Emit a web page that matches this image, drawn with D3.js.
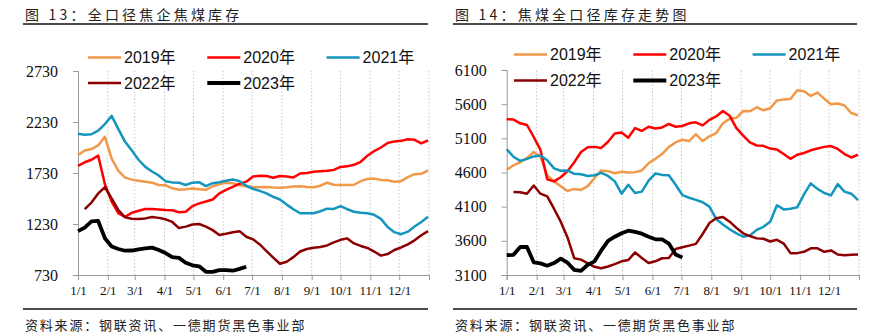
<!DOCTYPE html>
<html>
<head>
<meta charset="utf-8">
<script src="https://cdn.jsdelivr.net/npm/d3@7"></script>
<style>
  body { margin: 0; background: #fff; }
  svg { display: block; }
  .title { font-family: "Noto Sans CJK SC", sans-serif; font-size: 14px; letter-spacing: 3.2px; fill: #222; }
  .source { font-family: "Noto Sans CJK SC", sans-serif; font-size: 13px; letter-spacing: 1.8px; fill: #222; }
  .tick-y { font-family: "Liberation Serif", "Times New Roman", serif; font-size: 16px; fill: #111; }
  .tick-x { font-family: "Liberation Serif", "Times New Roman", serif; font-size: 13px; fill: #111; }
  .legend { font-family: "Liberation Sans", Arial, "Noto Sans CJK SC", sans-serif; font-size: 16px; fill: #111; }
</style>
</head>
<body>
<svg id="chart" width="878" height="333"></svg>
<script>
// weekly points, one every 7 days from 1/1
const monthLabels = ["1/1", "2/1", "3/1", "4/1", "5/1", "6/1", "7/1", "8/1", "9/1", "10/1", "11/1", "12/1"];
const monthDays = [0, 31, 59, 90, 120, 151, 181, 212, 243, 273, 304, 334];
const years = ["2019年", "2020年", "2021年", "2022年", "2023年"];
const colors = ["#F0994A", "#FF0000", "#1495BE", "#8B0000", "#000000"];

// 全口径焦企焦煤库存
const cokeTicks = [730, 1230, 1730, 2230, 2730];
const coke2019 = [1905, 1950, 1965, 2000, 2085, 1870, 1750, 1685, 1665, 1655, 1645, 1635, 1612, 1610, 1580, 1565, 1570, 1578, 1570, 1565, 1600, 1620, 1635, 1630, 1610, 1600, 1592, 1590, 1592, 1588, 1586, 1590, 1598, 1600, 1592, 1590, 1605, 1635, 1615, 1612, 1612, 1615, 1650, 1672, 1675, 1662, 1658, 1645, 1650, 1690, 1718, 1722, 1755];
const coke2020 = [1800, 1835, 1860, 1900, 1620, 1450, 1335, 1300, 1340, 1360, 1377, 1378, 1372, 1367, 1365, 1345, 1350, 1405, 1432, 1450, 1470, 1530, 1565, 1595, 1625, 1645, 1695, 1703, 1700, 1684, 1700, 1695, 1687, 1725, 1730, 1742, 1748, 1752, 1760, 1790, 1795, 1810, 1840, 1900, 1945, 1980, 2025, 2040, 2045, 2060, 2055, 2020, 2050];
const coke2021 = [2115, 2105, 2110, 2145, 2210, 2290, 2160, 2036, 1950, 1860, 1790, 1745, 1705, 1650, 1638, 1635, 1612, 1635, 1640, 1602, 1630, 1640, 1655, 1667, 1650, 1605, 1575, 1555, 1530, 1497, 1470, 1420, 1375, 1335, 1335, 1335, 1355, 1380, 1378, 1406, 1375, 1350, 1340, 1335, 1320, 1280, 1200, 1150, 1130, 1155, 1205, 1250, 1300];
const coke2022 = [null, 1375, 1440, 1530, 1590, 1481, 1367, 1295, 1282, 1279, 1285, 1298, 1290, 1276, 1250, 1190, 1204, 1225, 1230, 1205, 1170, 1122, 1135, 1150, 1160, 1105, 1080, 1030, 965, 900, 840, 860, 905, 960, 985, 998, 1005, 1020, 1050, 1075, 1089, 1040, 1015, 995, 960, 920, 935, 975, 1000, 1030, 1070, 1120, 1160];
const coke2023 = [1160, 1195, 1255, 1260, 1090, 1010, 985, 968, 970, 982, 991, 998, 975, 945, 905, 898, 850, 825, 815, 762, 760, 778, 778, 772, 790, 811];

// 焦煤全口径库存
const coalTicks = [3100, 3600, 4100, 4600, 5100, 5600, 6100];
const coal2019 = [4640, 4705, 4750, 4810, 4900, 4830, 4560, 4470, 4400, 4330, 4360, 4345, 4400, 4520, 4630, 4620, 4590, 4610, 4600, 4605, 4630, 4735, 4800, 4870, 4975, 5040, 5080, 5060, 5160, 5060, 5130, 5175, 5320, 5385, 5400, 5500, 5495, 5555, 5510, 5540, 5655, 5670, 5675, 5805, 5790, 5720, 5770, 5680, 5600, 5610, 5580, 5470, 5435];
const coal2020 = [5380, 5375, 5320, 5295, 5120, 4930, 4500, 4470, 4530, 4620, 4750, 4900, 4970, 4975, 4960, 5050, 5170, 5185, 5110, 5250, 5210, 5270, 5245, 5260, 5310, 5270, 5280, 5320, 5335, 5290, 5370, 5420, 5500, 5430, 5250, 5140, 5040, 4995, 4990, 4950, 4935, 4870, 4800, 4860, 4885, 4925, 4950, 4975, 4987, 4945, 4870, 4820, 4860];
const coal2021 = [4940, 4830, 4770, 4800, 4835, 4850, 4780, 4660, 4625, 4630, 4580, 4575, 4550, 4560, 4595, 4550, 4470, 4290, 4420, 4300, 4320, 4480, 4585, 4565, 4560, 4420, 4270, 4230, 4200, 4165, 4100, 3920, 3840, 3770, 3710, 3660, 3680, 3760, 3805, 3880, 4120, 4060, 4070, 4090, 4280, 4440, 4360, 4300, 4265, 4430, 4320, 4290, 4195];
const coal2022 = [null, 4315, 4310, 4290, 4410, 4290, 4250, 4070, 3880, 3650, 3344, 3325, 3270, 3220, 3198, 3225, 3260, 3300, 3320, 3430, 3350, 3275, 3300, 3345, 3350, 3480, 3505, 3530, 3555, 3700, 3860, 3930, 3950, 3880, 3790, 3710, 3670, 3636, 3630, 3590, 3615, 3560, 3420, 3420, 3440, 3490, 3490, 3440, 3460, 3400, 3390, 3395, 3400];
const coal2023 = [3390, 3395, 3510, 3510, 3285, 3270, 3236, 3275, 3340, 3280, 3175, 3160, 3250, 3300, 3460, 3600, 3660, 3710, 3748, 3730, 3705, 3660, 3622, 3620, 3560, 3400, 3355];

const svg = d3.select("#chart");
svg.append("rect").attr("width", 878).attr("height", 333).attr("fill", "#fff");

function drawPanel(p) {
  const g = svg.append("g");

  // header + footer
  g.append("text").attr("class", "title").attr("x", p.frame[0] + 2).attr("y", 20).text(p.title);
  g.append("line").attr("x1", p.frame[0]).attr("x2", p.frame[1]).attr("y1", 24).attr("y2", 24)
    .attr("stroke", "#111").attr("stroke-width", 1.5);
  g.append("line").attr("x1", p.frame[0]).attr("x2", p.frame[1]).attr("y1", 309).attr("y2", 309)
    .attr("stroke", "#111").attr("stroke-width", 1.5);
  g.append("text").attr("class", "source").attr("x", p.frame[0] + 2).attr("y", 330)
    .text("资料来源：钢联资讯、一德期货黑色事业部");

  const x = d3.scaleLinear().domain([0, 365]).range(p.xRange);
  const y = d3.scaleLinear().domain(d3.extent(p.ticks)).range(p.yRange);

  // dotted month grid
  g.selectAll(".grid").data(monthDays.slice(1).concat([365])).enter().append("line")
    .attr("x1", d => x(d)).attr("x2", d => x(d))
    .attr("y1", p.yRange[0]).attr("y2", p.yRange[1])
    .attr("stroke", "#c8c8c8").attr("stroke-width", 1).attr("stroke-dasharray", "1.5,2");

  const yAxis = g.append("g").attr("transform", `translate(${p.xRange[0]},0)`)
    .call(d3.axisLeft(y).tickValues(p.ticks).tickSize(5).tickPadding(15).tickFormat(d3.format("d")));
  yAxis.select(".domain").attr("stroke", "#999");
  yAxis.selectAll(".tick line").attr("stroke", "#999");
  yAxis.selectAll("text").attr("class", "tick-y").attr("font-family", null).attr("font-size", null);

  const xAxis = g.append("g").attr("transform", `translate(0,${p.yRange[0]})`)
    .call(d3.axisBottom(x).tickValues(monthDays.concat([365])).tickSize(5).tickPadding(6)
      .tickFormat((d, i) => monthLabels[i] || ""));
  xAxis.select(".domain").attr("stroke", "#999");
  xAxis.selectAll(".tick line").attr("stroke", "#999");
  xAxis.selectAll("text").attr("class", "tick-x").attr("font-family", null).attr("font-size", null);

  const line = d3.line()
    .defined(d => d != null)
    .x((d, i) => x(i * 7))
    .y(d => y(d));

  p.series.forEach((s, k) => {
    g.append("path").datum(s)
      .attr("d", line)
      .attr("fill", "none")
      .attr("stroke", colors[k])
      .attr("stroke-width", k === 4 ? 3.8 : 2.5)
      .attr("stroke-linejoin", "round");
  });

  // legend, three per row
  years.forEach((name, k) => {
    const lx = p.legendX + (k % 3) * 119.3;
    const ly = p.legendY[Math.floor(k / 3)];
    g.append("line").attr("x1", lx).attr("x2", lx + 33).attr("y1", ly).attr("y2", ly)
      .attr("stroke", colors[k]).attr("stroke-width", k === 4 ? 4 : 2.5);
    g.append("text").attr("class", "legend").attr("x", lx + 36).attr("y", ly)
      .attr("dominant-baseline", "central").text(name);
  });
}

drawPanel({
  title: "图 13：全口径焦企焦煤库存",
  frame: [23, 428],
  xRange: [78, 429],
  yRange: [275, 71],
  ticks: cokeTicks,
  series: [coke2019, coke2020, coke2021, coke2022, coke2023],
  legendX: 88,
  legendY: [57.5, 83]
});

drawPanel({
  title: "图 14：焦煤全口径库存走势图",
  frame: [453, 857],
  xRange: [506.7, 859],
  yRange: [275, 70],
  ticks: coalTicks,
  series: [coal2019, coal2020, coal2021, coal2022, coal2023],
  legendX: 514,
  legendY: [54.5, 80.5]
});
</script>
</body>
</html>
